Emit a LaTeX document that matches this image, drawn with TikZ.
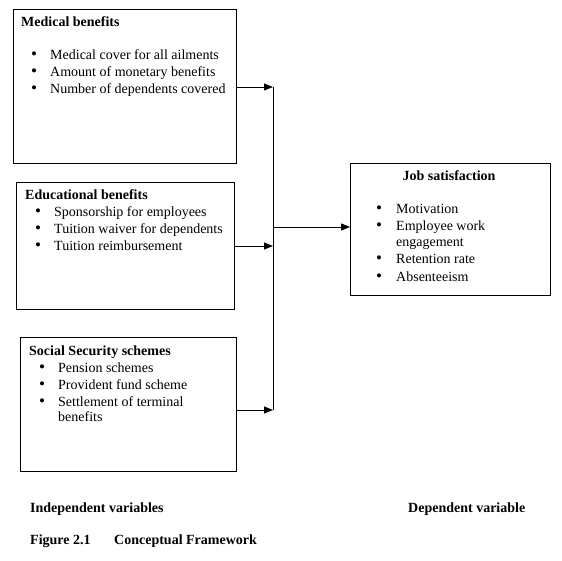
\documentclass[tikz,border=0pt]{standalone}
\usepackage{fontspec}
\setmainfont{Liberation Serif}
\usetikzlibrary{arrows.meta}
\begin{document}
\begin{tikzpicture}[x=1pt,y=-1pt,
  box/.style={draw, line width=0.9pt},
  txt/.style={anchor=base west, inner sep=0pt, font=\fontsize{14}{16}\selectfont},
  ttl/.style={txt, font=\fontsize{14}{16}\selectfont\bfseries},
  bul/.style={anchor=base, inner sep=0pt, font=\fontsize{17}{16}\selectfont},
  conn/.style={line width=0.9pt},
  arr/.style={conn, -{Triangle[length=9pt,width=7pt]}}]
\useasboundingbox (0,0) rectangle (562,561);
% boxes
\node[box, minimum width=223pt, minimum height=154pt, anchor=north west, inner sep=0pt] (b1) at (13,9) {};
\node[box, minimum width=218pt, minimum height=127pt, anchor=north west, inner sep=0pt] (b2) at (16,182) {};
\node[box, minimum width=216pt, minimum height=134pt, anchor=north west, inner sep=0pt] (b3) at (20,337) {};
\node[box, minimum width=200pt, minimum height=132pt, anchor=north west, inner sep=0pt] (b4) at (350,163) {};
% box 1
\node[ttl] (t1) at (21,27) {Medical benefits};
\node[bul] (b1a) at (34,60) {\textbullet};
\node[txt] (i1a) at (50,60) {Medical cover for all ailments};
\node[bul] (b1b) at (34,77) {\textbullet};
\node[txt] (i1b) at (50,77) {Amount of monetary benefits};
\node[bul] (b1c) at (34,94) {\textbullet};
\node[txt] (i1c) at (50,94) {Number of dependents covered};
% box 2
\node[ttl] (t2) at (25,200) {Educational benefits};
\node[bul] (b2a) at (38,217) {\textbullet};
\node[txt] (i2a) at (54,217) {Sponsorship for employees};
\node[bul] (b2b) at (38,234) {\textbullet};
\node[txt] (i2b) at (54,234) {Tuition waiver for dependents};
\node[bul] (b2c) at (38,251) {\textbullet};
\node[txt] (i2c) at (54,251) {Tuition reimbursement};
% box 3
\node[ttl] (t3) at (29,355) {Social Security schemes};
\node[bul] (b3a) at (42,372) {\textbullet};
\node[txt] (i3a) at (58,372) {Pension schemes};
\node[bul] (b3b) at (42,389) {\textbullet};
\node[txt] (i3b) at (58,389) {Provident fund scheme};
\node[bul] (b3c) at (42,406) {\textbullet};
\node[txt] (i3c) at (58,406) {Settlement of terminal};
\node[txt] (i3d) at (58,421) {benefits};
% box 4
\node[ttl, anchor=base] (t4) at (449,181) {Job satisfaction};
\node[bul] (b4a) at (379,214) {\textbullet};
\node[txt] (i4a) at (396,214) {Motivation};
\node[bul] (b4b) at (379,231) {\textbullet};
\node[txt] (i4b) at (396,231) {Employee work};
\node[txt] (i4c) at (396,247) {engagement};
\node[bul] (b4c) at (379,264) {\textbullet};
\node[txt] (i4d) at (396,264) {Retention rate};
\node[bul] (b4d) at (379,281) {\textbullet};
\node[txt] (i4e) at (396,281) {Absenteeism};
% bottom labels
\node[ttl] (iv) at (30,512) {Independent variables};
\node[ttl] (dv) at (408,512) {Dependent variable};
\node[ttl] (fig) at (30,544) {Figure 2.1};
\node[ttl] (cf) at (114,544) {Conceptual Framework};
% connectors
\coordinate (j1) at (273,87);
\coordinate (j2) at (273,246);
\coordinate (j3) at (273,410);
\coordinate (jm) at (273,227);
\draw[conn] (j1) -- (j3);
\draw[arr] (b1.east |- j1) -- (j1);
\draw[arr] (b2.east |- j2) -- (j2);
\draw[arr] (b3.east |- j3) -- (j3);
\draw[arr] (jm) -- (b4.west |- jm);
\end{tikzpicture}
\end{document}
